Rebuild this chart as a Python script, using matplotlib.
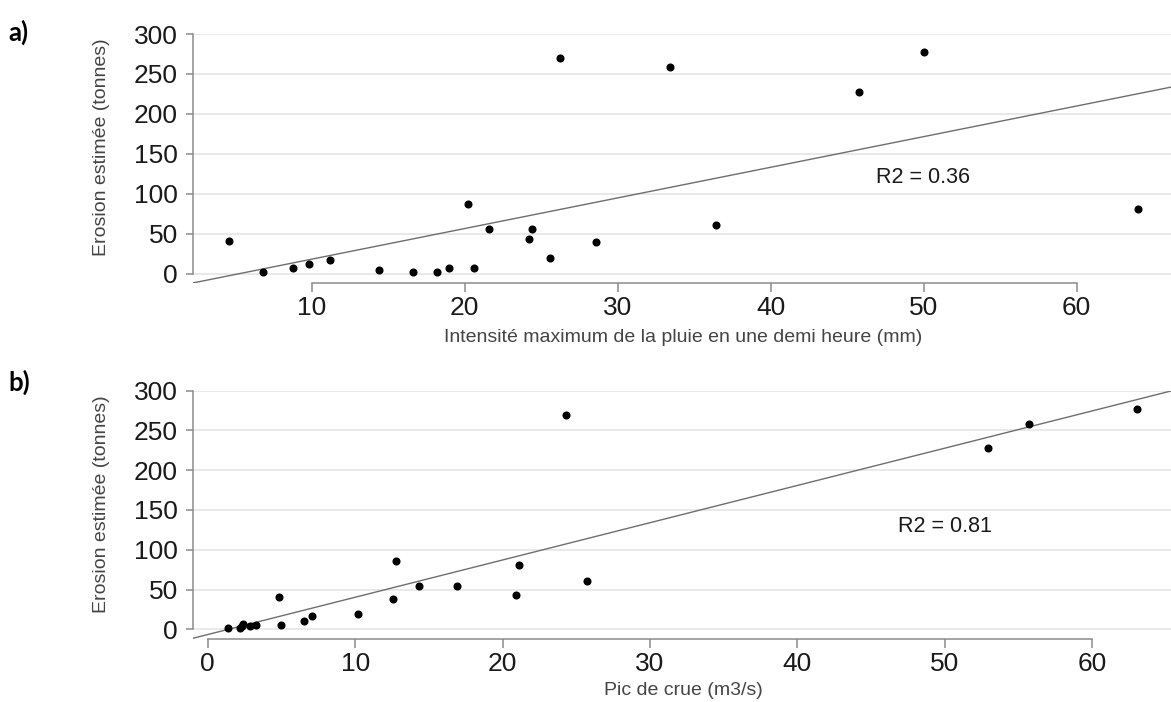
import matplotlib
matplotlib.use("Agg")
import matplotlib.pyplot as plt
import numpy as np

# ---- data ----
a_x = [4.6, 6.8, 8.8, 9.8, 11.2, 14.4, 16.6, 18.2, 19.0, 20.2, 20.6, 21.6,
       24.2, 24.4, 25.6, 26.2, 28.6, 33.4, 36.4, 45.8, 50.0, 64.0]
a_y = [41, 3, 8, 12, 18, 5, 3, 3, 7, 88, 7.5, 56,
       44, 56, 20, 270, 40, 259, 61, 228, 277, 81]
a_fit = (3.83, -19.8)          # slope, intercept
a_r2 = "R2 = 0.36"
a_xticks = [10, 20, 30, 40, 50, 60]
a_xlabel = "Intensité maximum de la pluie en une demi heure (mm)"

b_x = [1.4, 2.2, 2.3, 2.4, 2.9, 3.3, 4.8, 5.0, 6.5, 7.1, 10.2, 12.55,
       12.75, 14.3, 16.9, 20.9, 21.1, 24.3, 25.7, 52.9, 55.7, 63.0]
b_y = [2, 2, 4, 6.7, 4.6, 4.9, 40, 5.8, 10.4, 16.7, 18.8, 38.5,
       86, 55, 54.5, 42.7, 80.5, 269.5, 60.4, 227.6, 258, 277]
b_fit = (4.687, -6.6)
b_r2 = "R2 = 0.81"
b_xticks = [0, 10, 20, 30, 40, 50, 60]
b_xlabel = "Pic de crue (m3/s)"

yticks = [0, 50, 100, 150, 200, 250, 300]
ylabel = "Erosion estimée (tonnes)"
panel_labels = ["a)", "b)"]

plt.rcParams['font.family'] = ['Liberation Sans', 'DejaVu Sans']

W, H = 1171, 702
fig = plt.figure(figsize=(W / 100, H / 100), dpi=100)

AX_COL = "#8c8c8c"
GRID_COL = "#e9e9e9"


def panel(rect, xs, ys, fit, r2, r2pos, xticks, xlim, ylim, xlabel, xlab_y, plabel, plabel_y):
    ax = fig.add_axes(rect)
    ax.set_xlim(*xlim)
    ax.set_ylim(*ylim)
    ax.set_yticks(yticks)
    ax.set_xticks(xticks)
    for y in yticks:
        ax.axhline(y, color=GRID_COL, lw=1.4, zorder=0)
    x0, x1 = ax.get_xlim()
    lx = np.array([x0, x1])
    ax.plot(lx, fit[0] * lx + fit[1], color="#6e6e6e", lw=1.0, zorder=2)
    ax.plot(xs, ys, 'o', color="black", markersize=4.8, zorder=3)
    ax.text(r2pos[0], r2pos[1], r2, fontsize=15.5, color="#1a1a1a",
            ha="left", va="center")
    for s in ["top", "right"]:
        ax.spines[s].set_visible(False)
    ax.spines["left"].set_bounds(yticks[0], yticks[-1])
    ax.spines["bottom"].set_bounds(xticks[0], xticks[-1])
    for s in ["left", "bottom"]:
        ax.spines[s].set_color(AX_COL)
        ax.spines[s].set_linewidth(1.1)
    ax.tick_params(axis="y", length=5, width=1.1, color=AX_COL, pad=6,
                   labelsize=19, labelcolor="#1a1a1a")
    ax.tick_params(axis="x", length=6.5, width=1.1, color=AX_COL, pad=2.5,
                   labelsize=19, labelcolor="#1a1a1a")
    ax.set_ylabel(ylabel, fontsize=14, color="#444444")
    ax.yaxis.set_label_coords(-0.085, 0.545)
    ax.set_xlabel(xlabel, fontsize=14, color="#444444")
    ax.xaxis.label.set_va("center")
    ax.xaxis.set_label_coords(0.5015, xlab_y)
    fig.text(8 / W, 1 - plabel_y / H, plabel, fontsize=18.5, fontweight="bold",
             family=["Lato", "DejaVu Sans"], ha="left", va="center")
    return ax


panel([193 / W, 1 - 283 / H, 978 / W, 249 / H], a_x, a_y, a_fit, a_r2, (46.9, 120),
      a_xticks, (2.24, 66.16), (-11.3, 300), a_xlabel, -0.217, panel_labels[0], 32)
panel([193 / W, 1 - 639.3 / H, 978 / W, 248.6 / H], b_x, b_y, b_fit, b_r2, (46.8, 129),
      b_xticks, (-1.0, 65.34), (-12.6, 300), b_xlabel, -0.204, panel_labels[1], 382)

fig.savefig("out.png", dpi=100)
